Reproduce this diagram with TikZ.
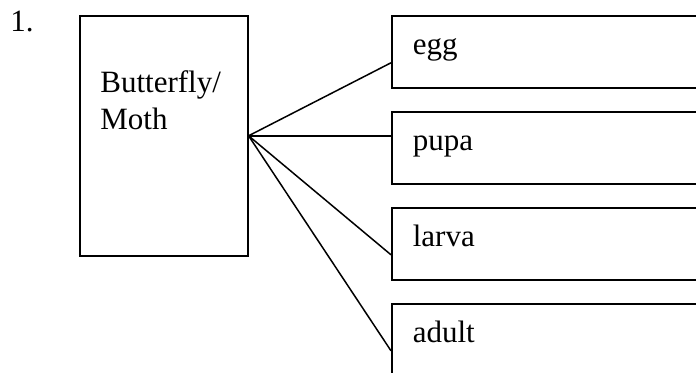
\documentclass[tikz,border=0pt]{standalone}
\usepackage{fontspec}
\setmainfont{Liberation Serif}
\usetikzlibrary{positioning}

\begin{document}
\begin{tikzpicture}[x=0.5pt,y=-0.5pt,
    every node/.style={font=\fontsize{15.5}{18.5}\selectfont, inner sep=0pt},
    box/.style={draw, line width=0.8pt},
    stage/.style={box, anchor=north west, text width=170pt, align=left,
        inner xsep=10.5pt, minimum height=36pt, text height=6pt, text depth=3pt},
    link/.style={line width=0.75pt}]

    \path[use as bounding box, clip] (0,0) rectangle (696,373);

    % main graph
    % nodes
    \node[anchor=base west] (num) at (10,32) {1.};
    \node[box, minimum width=84pt, minimum height=120pt, anchor=north west] (moth) at (79,15) {};
    \node[anchor=base west, align=left] (mothtext) at ([xshift=10.5pt,yshift=-57.5pt]moth.north west) {Butterfly/\\Moth}; % base = last line
    \node[stage] (egg) at (391,15) {egg};
    \node[stage] (pupa) at (391,111) {pupa};
    \node[stage] (larva) at (391,207) {larva};
    \node[stage] (adult) at (391,303) {adult};

    % paths
    \draw[link] (moth.east) -- ([yshift=-5.5pt]egg.west); % moth -> egg
    \draw[link] (moth.east) -- (moth.east -| pupa.west); % moth -> pupa
    \draw[link] (moth.east) -- ([yshift=-5.5pt]larva.west); % moth -> larva
    \draw[link] (moth.east) -- ([yshift=-5.5pt]adult.west); % moth -> adult

\end{tikzpicture}
\end{document}
